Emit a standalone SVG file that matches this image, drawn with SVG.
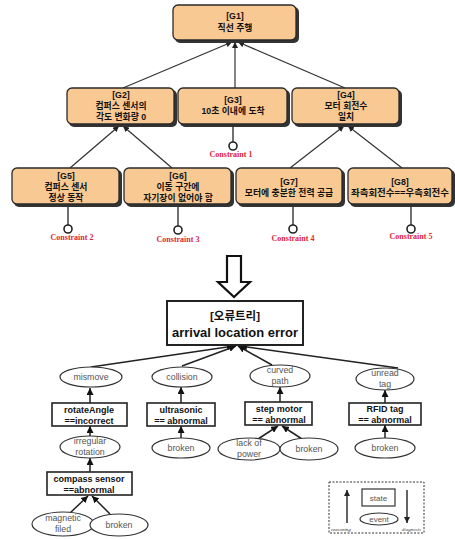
<svg xmlns="http://www.w3.org/2000/svg" width="455" height="540" viewBox="0 0 455 540">
<style>
.goal{fill:#F9C994;stroke:#2a2a2a;stroke-width:1.3}
.shadow{fill:#333}
.gt{font-family:"Liberation Sans","Noto Sans CJK KR",sans-serif;font-weight:bold;font-size:8.8px;fill:#111;text-anchor:middle}
.cn{font-family:"Liberation Serif",serif;font-weight:bold;font-size:8px;fill:#E0263A;text-anchor:middle}
.conn{stroke:#333;stroke-width:1.2;fill:none}
.stem{stroke:#333;stroke-width:1.4;fill:none}
.pin{fill:#fff;stroke:#222;stroke-width:1.6}
.st{fill:#fff;stroke:#222;stroke-width:1.6}
.ev{fill:#fff;stroke:#333;stroke-width:1.2}
.bt{font-family:"Liberation Sans","Noto Sans CJK KR",sans-serif;font-weight:bold;font-size:9px;fill:#111;text-anchor:middle}
.et{font-family:"Liberation Sans",sans-serif;font-size:8.8px;fill:#555;text-anchor:middle}
.ft{stroke:#222;stroke-width:1.5;fill:none}
.lg{font-family:"Liberation Serif",serif;font-style:italic;font-size:5px;fill:#333}
</style>
<defs>
<marker id="ah" viewBox="0 0 10 10" refX="10" refY="5" markerWidth="6" markerHeight="6" orient="auto" markerUnits="userSpaceOnUse">
<path d="M0,0 L10,5 L0,10 z" fill="#222"/>
</marker>
<marker id="ah2" viewBox="0 0 10 10" refX="10" refY="5" markerWidth="7" markerHeight="7" orient="auto" markerUnits="userSpaceOnUse">
<path d="M0,0 L10,5 L0,10 z" fill="#111"/>
</marker>
</defs>

<g id="connectors">
<line class="conn" x1="123" y1="88" x2="232" y2="42" marker-end="url(#ah)"/>
<line class="conn" x1="235" y1="88" x2="235" y2="42" marker-end="url(#ah)"/>
<line class="conn" x1="345" y1="88" x2="238" y2="42" marker-end="url(#ah)"/>
<line class="conn" x1="70" y1="168" x2="119" y2="126" marker-end="url(#ah)"/>
<line class="conn" x1="172" y1="168" x2="123" y2="126" marker-end="url(#ah)"/>
<line class="conn" x1="290" y1="168" x2="344" y2="126" marker-end="url(#ah)"/>
<line class="conn" x1="402" y1="168" x2="348" y2="126" marker-end="url(#ah)"/>
<line class="stem" x1="233" y1="126" x2="233" y2="142"/>
<line class="stem" x1="68" y1="206" x2="68" y2="225"/>
<line class="stem" x1="178" y1="206" x2="178" y2="226"/>
<line class="stem" x1="293" y1="206" x2="293" y2="225"/>
<line class="stem" x1="411" y1="206" x2="411" y2="225"/>

<line class="ft" x1="91" y1="367" x2="234" y2="346" marker-end="url(#ah2)"/>
<line class="ft" x1="182" y1="366" x2="236" y2="346" marker-end="url(#ah2)"/>
<line class="ft" x1="272" y1="365" x2="238" y2="346" marker-end="url(#ah2)"/>
<line class="ft" x1="398" y1="368" x2="240" y2="346" marker-end="url(#ah2)"/>
<line class="ft" x1="90" y1="403" x2="90" y2="388" marker-end="url(#ah2)"/>
<line class="ft" x1="90" y1="436" x2="90" y2="426" marker-end="url(#ah2)"/>
<line class="ft" x1="90" y1="472" x2="90" y2="458" marker-end="url(#ah2)"/>
<line class="ft" x1="70" y1="513" x2="88" y2="496" marker-end="url(#ah2)"/>
<line class="ft" x1="110" y1="514" x2="92" y2="496" marker-end="url(#ah2)"/>
<line class="ft" x1="181" y1="403" x2="181" y2="387" marker-end="url(#ah2)"/>
<line class="ft" x1="181" y1="438" x2="181" y2="426" marker-end="url(#ah2)"/>
<line class="ft" x1="280" y1="402" x2="280" y2="387" marker-end="url(#ah2)"/>
<line class="ft" x1="258" y1="439" x2="278" y2="426" marker-end="url(#ah2)"/>
<line class="ft" x1="302" y1="439" x2="282" y2="426" marker-end="url(#ah2)"/>
<line class="ft" x1="385" y1="403" x2="385" y2="390" marker-end="url(#ah2)"/>
<line class="ft" x1="385" y1="438" x2="385" y2="425" marker-end="url(#ah2)"/>
</g>

<g id="G1"><rect class="shadow" x="175" y="7" width="124" height="36" rx="5"/><rect class="goal" x="173" y="5" width="123" height="35" rx="5"/><text class="gt" x="235" y="19">[G1]</text><text class="gt" x="235" y="31">직선 주행</text></g>
<g id="G2"><rect class="shadow" x="69" y="90" width="108" height="37" rx="5"/><rect class="goal" x="67" y="88" width="107" height="36" rx="5"/><text class="gt" x="121" y="98">[G2]</text><text class="gt" x="121" y="109">컴퍼스 센서의</text><text class="gt" x="121" y="120">각도 변화량 0</text></g>
<g id="G3"><rect class="shadow" x="180" y="90" width="110" height="37" rx="5"/><rect class="goal" x="178" y="88" width="109" height="36" rx="5"/><text class="gt" x="233" y="103">[G3]</text><text class="gt" x="233" y="114">10초 이내에 도착</text></g>
<g id="G4"><rect class="shadow" x="294" y="90" width="108" height="37" rx="5"/><rect class="goal" x="292" y="88" width="107" height="36" rx="5"/><text class="gt" x="346" y="98">[G4]</text><text class="gt" x="346" y="109">모터 회전수</text><text class="gt" x="346" y="120">일치</text></g>
<g id="G5"><rect class="shadow" x="14" y="170" width="108" height="37" rx="5"/><rect class="goal" x="12" y="168" width="107" height="36" rx="5"/><text class="gt" x="66" y="179">[G5]</text><text class="gt" x="66" y="190">컴퍼스 센서</text><text class="gt" x="66" y="201">정상 동작</text></g>
<g id="G6"><rect class="shadow" x="126" y="170" width="108" height="37" rx="5"/><rect class="goal" x="124" y="168" width="107" height="36" rx="5"/><text class="gt" x="178" y="179">[G6]</text><text class="gt" x="178" y="190">이동 구간에</text><text class="gt" x="178" y="201">자기장이 없어야 함</text></g>
<g id="G7"><rect class="shadow" x="238" y="170" width="107" height="37" rx="5"/><rect class="goal" x="236" y="168" width="106" height="36" rx="5"/><text class="gt" x="289" y="185">[G7]</text><text class="gt" x="289" y="196">모터에 충분한 전력 공급</text></g>
<g id="G8"><rect class="shadow" x="350" y="170" width="105" height="37" rx="5"/><rect class="goal" x="348" y="168" width="104" height="36" rx="5"/><text class="gt" x="400" y="185">[G8]</text><text class="gt" x="400" y="196" textLength="98" lengthAdjust="spacingAndGlyphs">좌측회전수==우측회전수</text></g>

<g id="C1"><circle class="pin" cx="233" cy="146" r="4"/><text class="cn" x="231" y="157">Constraint 1</text></g>
<g id="C2"><circle class="pin" cx="68" cy="229" r="4"/><text class="cn" x="72" y="240">Constraint 2</text></g>
<g id="C3"><circle class="pin" cx="178" cy="230" r="4"/><text class="cn" x="178" y="242">Constraint 3</text></g>
<g id="C4"><circle class="pin" cx="293" cy="229" r="4"/><text class="cn" x="293" y="241">Constraint 4</text></g>
<g id="C5"><circle class="pin" cx="411" cy="229" r="4"/><text class="cn" x="411" y="239">Constraint 5</text></g>

<g id="bigArrow"><path d="M227,256 L241,256 L241,282 L250,282 L234,297 L218,282 L227,282 Z" fill="#fff" stroke="#111" stroke-width="2.2" stroke-linejoin="miter"/></g>

<g id="top"><rect x="167" y="301" width="136" height="44" fill="#fff" stroke="#222" stroke-width="2"/><text class="bt" x="235" y="320" style="font-size:11.5px">[오류트리]</text><text class="bt" x="235" y="337" style="font-size:13px" textLength="126" lengthAdjust="spacingAndGlyphs">arrival location error</text></g>

<g id="mismove"><ellipse class="ev" cx="91" cy="377" rx="31" ry="10"/><text class="et" x="91" y="380">mismove</text></g>
<g id="collision"><ellipse class="ev" cx="182" cy="377" rx="30" ry="10"/><text class="et" x="182" y="380">collision</text></g>
<g id="curved"><ellipse class="ev" cx="280" cy="376" rx="30" ry="11"/><text class="et" x="280" y="373">curved</text><text class="et" x="280" y="383.5">path</text></g>
<g id="unread"><ellipse class="ev" cx="385" cy="379" rx="29" ry="11"/><text class="et" x="385" y="376">unread</text><text class="et" x="385" y="386.5">tag</text></g>

<g id="rotateAngle"><rect class="st" x="52" y="403" width="75" height="23"/><text class="bt" x="89" y="413">rotateAngle</text><text class="bt" x="89" y="423.5">==incorrect</text></g>
<g id="ultrasonic"><rect class="st" x="147" y="403" width="68" height="23"/><text class="bt" x="181" y="413">ultrasonic</text><text class="bt" x="181" y="423.5">== abnormal</text></g>
<g id="stepmotor"><rect class="st" x="245" y="402" width="67" height="23"/><text class="bt" x="279" y="412">step motor</text><text class="bt" x="279" y="422.5">== abnormal</text></g>
<g id="rfid"><rect class="st" x="349" y="403" width="72" height="22"/><text class="bt" x="385" y="412">RFID tag</text><text class="bt" x="385" y="422.5">== abnormal</text></g>

<g id="irregular"><ellipse class="ev" cx="90" cy="447" rx="30" ry="11"/><text class="et" x="90" y="444">irregular</text><text class="et" x="90" y="454.5">rotation</text></g>
<g id="broken1"><ellipse class="ev" cx="181" cy="448" rx="29" ry="10"/><text class="et" x="181" y="451">broken</text></g>
<g id="lackpower"><ellipse class="ev" cx="249" cy="449" rx="31" ry="11"/><text class="et" x="249" y="446">lack of</text><text class="et" x="249" y="456.5">power</text></g>
<g id="broken2"><ellipse class="ev" cx="309" cy="449" rx="29" ry="11"/><text class="et" x="309" y="452">broken</text></g>
<g id="broken3"><ellipse class="ev" cx="385" cy="448" rx="30" ry="10"/><text class="et" x="385" y="451">broken</text></g>

<g id="compass"><rect class="st" x="47" y="472" width="85" height="23"/><text class="bt" x="89" y="482">compass sensor</text><text class="bt" x="89" y="492.5">==abnormal</text></g>
<g id="magnetic"><ellipse class="ev" cx="63" cy="524" rx="31" ry="12"/><text class="et" x="63" y="521">magnetic</text><text class="et" x="63" y="531.5">filed</text></g>
<g id="broken4"><ellipse class="ev" cx="119" cy="525" rx="29" ry="11"/><text class="et" x="119" y="528">broken</text></g>

<g id="legend">
<rect x="329" y="482" width="95" height="51" fill="none" stroke="#333" stroke-width="1" stroke-dasharray="2,1.5"/>
<line x1="347" y1="523" x2="347" y2="490" stroke="#222" stroke-width="1.4" marker-end="url(#ah)"/>
<line x1="407" y1="490" x2="407" y2="523" stroke="#222" stroke-width="1.4" marker-end="url(#ah)"/>
<rect x="362" y="489" width="33" height="17" fill="#fff" stroke="#333" stroke-width="1.2"/>
<text class="et" x="378.5" y="500.5" style="font-size:8px">state</text>
<ellipse cx="379" cy="519" rx="19" ry="6" fill="#fff" stroke="#333" stroke-width="1.2"/>
<text class="et" x="379" y="522" style="font-size:8px">event</text>
<text class="lg" x="331" y="531">reasoning</text>
<text class="lg" x="421" y="531" text-anchor="end">diagnosis</text>
</g>
</svg>
